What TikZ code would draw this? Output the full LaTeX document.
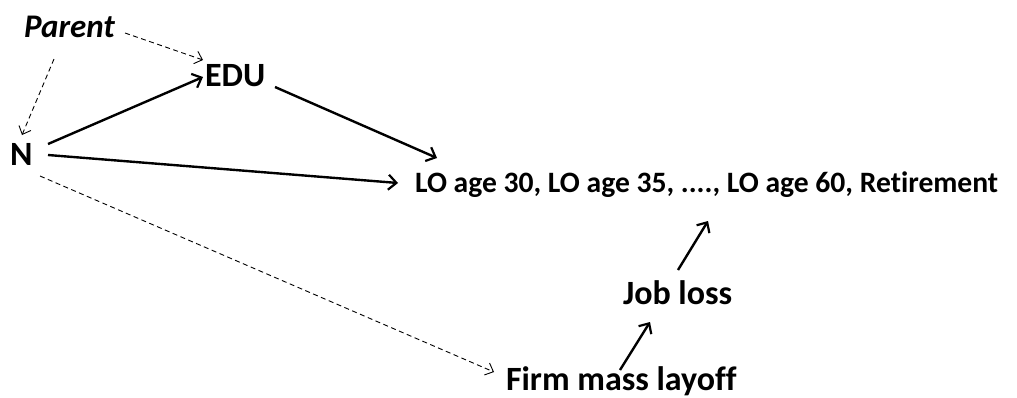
\documentclass[tikz,border=0pt]{standalone}
\usepackage{fontspec}
\setmainfont{Carlito}[Ligatures=NoCommon]
\usetikzlibrary{arrows.meta,calc}
\begin{document}
\begin{tikzpicture}[x=1pt,y=-1pt,
  lbl/.style={anchor=base west,inner sep=0pt,outer sep=0pt,font=\fontsize{34}{40}\selectfont\bfseries},
  solidarrow/.style={line width=2.4pt,-{Straight Barb[length=8pt,width=15pt,line width=2.2pt]}},
  dasharrow/.style={line width=0.9pt,dash pattern=on 5pt off 3.5pt,-{Straight Barb[length=7pt,width=13pt,line width=0.9pt]}}]
\useasboundingbox (0,0) rectangle (1017,397);
\node[lbl,font=\fontsize{33}{38}\selectfont\bfseries\itshape] (P) at (24,37) {Parent};
\node[lbl] (EDU) at (205,86) {EDU};
\node[lbl] (N) at (10,165) {N};
\node[lbl,font=\fontsize{29.6}{35}\selectfont\bfseries] (LO) at (415,192) {LO age 30, LO age 35, ...., LO age 60, Retirement};
\node[lbl] (JL) at (623,304) {Job loss};
\node[lbl] (FM) at (506,390) {Firm mass layoff};
\draw[dasharrow] ($(P.base west)+(101,-4)$) -- ($(EDU.base west)+(-2,-26)$);
\draw[dasharrow] ($(P.base west)+(30,22)$) -- ($(N.base west)+(12,-30)$);
\draw[solidarrow] ($(N.base west)+(38,-21)$) -- ($(EDU.base west)+(-2,-9)$);
\draw[solidarrow] ($(N.base west)+(38,-10)$) -- ($(LO.base west)+(-17,-9)$);
\draw[solidarrow] ($(EDU.base west)+(70,1)$) -- ($(LO.base west)+(22,-34)$);
\draw[dasharrow] ($(N.base west)+(30,11)$) -- ($(FM.base west)+(-12,-18)$);
\draw[solidarrow] ($(JL.base west)+(55,-34)$) -- ($(LO.base west)+(293,29)$);
\draw[solidarrow] ($(FM.base west)+(114,-20)$) -- ($(JL.base west)+(27,18)$);
\end{tikzpicture}
\end{document}
